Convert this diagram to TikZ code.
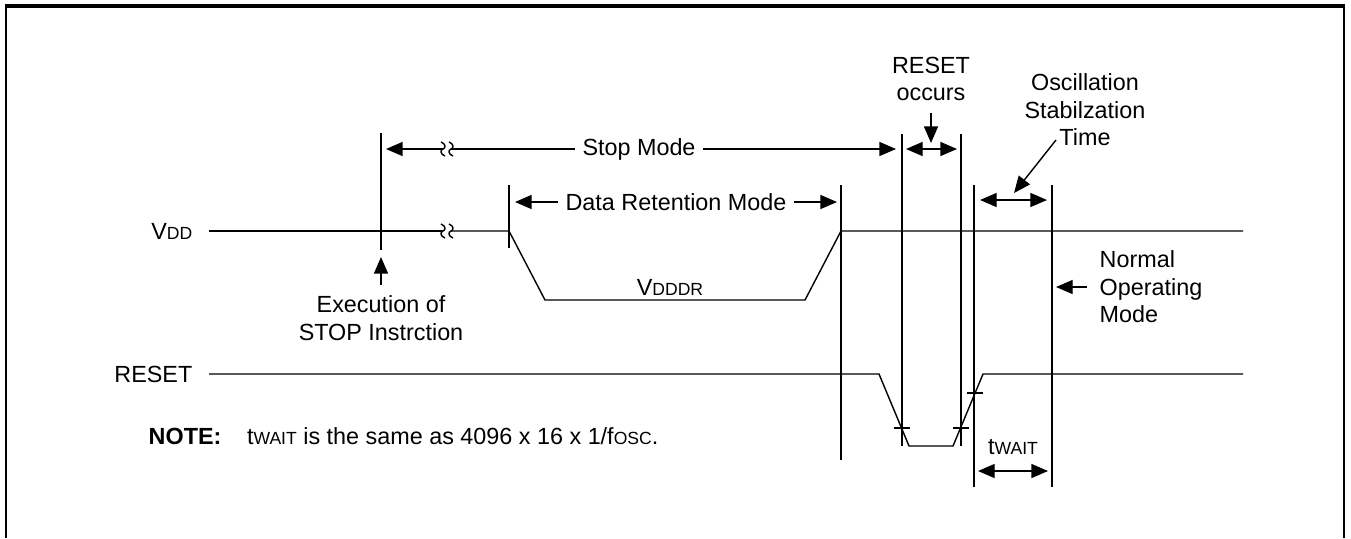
\documentclass[tikz,border=0pt]{standalone}
\usepackage{fontspec}
\setmainfont{Liberation Sans}
\usetikzlibrary{arrows.meta, positioning, calc}
\newcommand{\smc}[1]{{\fontsize{10}{10}\selectfont #1}}

\begin{document}
\begin{tikzpicture}[x=0.02cm, y=-0.02cm, line width=0.8pt,
    every node/.style={font=\fontsize{13.3}{15.6}\selectfont, inner sep=0pt},
    lab/.style={inner xsep=4pt},
    arr/.style={-{Triangle[length=9.5pt,width=8pt]}},
    dblarr/.style={{Triangle[length=9.5pt,width=8pt]}-{Triangle[length=9.5pt,width=8pt]}},
    zz/.pic={\draw[line width=0.8pt] (-2,-7) .. controls (3,-5) and (3,-1) .. (0,0)
        .. controls (-3,1) and (-3,5) .. (2,7);}]
    \useasboundingbox (0,0) rectangle (1351,538);

    % Frame
    \draw[line width=1.2pt] (6,538) -- (6,6);
    \draw[line width=1.2pt] (1344,538) -- (1344,6);
    \draw[line width=1.8pt] (5,6) -- (1345,6);

    % Signal names
    \node[anchor=east] (vdd) at (193,231) {V\smc{DD}};
    \node[anchor=east] (rst) at (193,374) {RESET};

    % VDD waveform with break
    \draw (209,231) -- (443,231);
    \draw (451,231) -- (509,231) -- (545,300) -- (805,300) -- (841,231) -- (1243,231);
    \pic at (443,231) {zz};
    \pic at (451,231) {zz};

    % RESET waveform
    \draw (209,374) -- (879,374) -- (909,446) -- (953,446) -- (983,374) -- (1243,374);
    \foreach \x/\y in {902/428, 961/428, 975/393}
        \draw (\x-8,\y) -- (\x+8,\y);

    % Vertical markers
    \foreach \x/\ya/\yb in {381/133/250, 509/185/248, 841/185/460, 902/134/446,
        961/134/446, 974/185/487, 1052/185/487}
        \draw (\x,\ya) -- (\x,\yb);

    % Stop mode
    \node[lab] (stop) at (639,149) {Stop Mode};
    \coordinate (stopL) at (386,149);
    \coordinate (stopR) at (896,149);
    \draw (stop.west) -- (451,149);
    \draw[arr] (443,149) -- (stopL);
    \pic at (443,149) {zz};
    \pic at (451,149) {zz};
    \draw[arr] (stop.east) -- (stopR);

    % Data retention mode
    \node[lab] (dr) at (676,202) {Data Retention Mode};
    \coordinate (drL) at (515,202);
    \coordinate (drR) at (837,202);
    \draw[arr] (dr.west) -- (drL);
    \draw[arr] (dr.east) -- (drR);
    \node (vdddr) at (670,287) {V\smc{DDDR}};

    % Execution of STOP
    \node[align=center] (exec) at (381,318) {Execution of\\STOP Instrction};
    \coordinate (execA) at (381,285);
    \coordinate (execB) at (381,257);
    \draw[arr] (execA) -- (execB);

    % RESET occurs
    \node[align=center] (rocc) at (931,79) {RESET\\occurs};
    \coordinate (occA) at (931,113);
    \coordinate (occB) at (931,143);
    \draw[arr] (occA) -- (occB);
    \coordinate (occL) at (906,149);
    \coordinate (occR) at (957,149);
    \draw[dblarr] (occL) -- (occR);

    % Oscillation stabilization
    \node[align=center] (osc) at (1085,110) {Oscillation\\Stabilzation\\Time};
    \coordinate (oscA) at (1056,140);
    \coordinate (oscB) at (1014,193);
    \draw[arr] (oscA) -- (oscB);
    \coordinate (oscL) at (980,200);
    \coordinate (oscR) at (1047,200);
    \draw[dblarr] (oscL) -- (oscR);

    % Normal operating mode
    \node[align=left, anchor=west] (norm) at (1099,287) {Normal\\Operating\\Mode};
    \coordinate (normA) at (1087,287);
    \coordinate (normB) at (1056,287);
    \draw[arr] (normA) -- (normB);

    % tWAIT
    \node (twait) at (1013,447) {t\smc{WAIT}};
    \coordinate (twL) at (978,471);
    \coordinate (twR) at (1048,471);
    \draw[dblarr] (twL) -- (twR);

    % Note
    \node[anchor=west] (note) at (148,436) {\textbf{NOTE:}\hspace{1.1em}t\smc{WAIT} is the same as 4096 x 16 x 1/f\smc{OSC}.};
\end{tikzpicture}
\end{document}
